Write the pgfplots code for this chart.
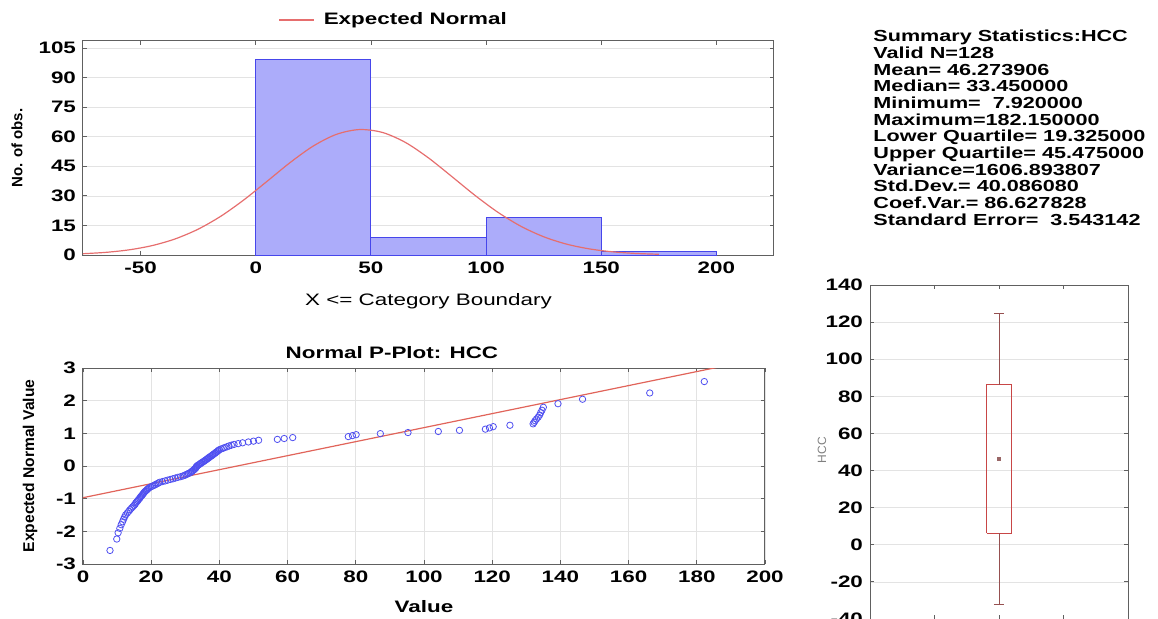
\documentclass[border=0pt]{standalone}
\usepackage{pgfplots}
\pgfplotsset{compat=1.18}
\usepackage{fontspec}
\setmainfont{Liberation Sans}[FakeStretch=1.35]
\newfontfamily\rotfont{Liberation Sans}

\definecolor{barfill}{RGB}{172,172,250}
\definecolor{bardraw}{RGB}{70,70,235}
\definecolor{curve}{RGB}{230,110,110}
\definecolor{pts}{RGB}{80,80,240}
\definecolor{pline}{RGB}{225,100,90}
\definecolor{boxred}{RGB}{200,70,70}
\definecolor{whisk}{RGB}{150,80,80}

\pgfplotsset{
  stat/.style={
    scale only axis,
    axis line style={gray!75!black, line width=0.5pt},
    tick style={gray!75!black, line width=0.4pt},
    major tick length=2pt,
    grid style={gray!22, line width=0.3pt},
    tick label style={font=\bfseries\fontsize{8.3}{9}\selectfont},
    /pgf/number format/assume math mode=true,
  }
}

\begin{document}
\begin{tikzpicture}

% histogram with expected normal
\begin{axis}[stat,
  at={(41.5pt,181.5pt)}, anchor=south west,
  width=345.5pt, height=107pt,
  xmin=-75, xmax=225, ymin=0, ymax=108.6,
  xtick={-50,0,50,100,150,200},
  ytick={0,15,30,45,60,75,90,105},
  ymajorgrids,
  xlabel={X <= Category Boundary},
  xlabel style={font=\fontsize{8.3}{9}\selectfont, yshift=-3pt},
  ylabel={No. of obs.},
  ylabel style={at={(axis description cs:-0.0955,0.5)}, anchor=center,
    font=\rotfont\bfseries\fontsize{7.5}{8}\selectfont},
  legend style={draw=none, fill=none, at={(axis description cs:0.451,1.098)},
    anchor=center, font=\bfseries\fontsize{8.3}{9}\selectfont,
    legend cell align=left},
]
\addplot[ybar interval, fill=barfill, draw=bardraw, line width=0.5pt, forget plot]
  coordinates {(0,99) (50,9) (100,19) (150,2) (200,2)};
\addplot[curve, line width=0.6pt, smooth] coordinates {
  (-75,0.66) (-65,1.35) (-55,2.62) (-45,4.77) (-35,8.16) (-25,13.11)
  (-15,19.80) (-5,28.11) (5,37.48) (15,46.98) (25,55.32) (35,61.22)
  (45,63.66) (55,62.20) (65,57.11) (75,49.26) (85,39.94) (95,30.43)
  (105,21.78) (115,14.65) (125,9.26) (135,5.50) (145,3.07) (155,1.61)
  (165,0.79) (175,0.37)
};
\addlegendentry{\hspace{3pt}Expected Normal}
\end{axis}

% normal probability plot
\begin{axis}[stat,
  at={(41.5pt,27pt)}, anchor=south west,
  width=341pt, height=98pt,
  xmin=0, xmax=200, ymin=-3, ymax=3,
  xtick={0,20,...,200}, ytick={-3,-2,...,3},
  grid=major,
  title={Normal P-Plot: HCC},
  title style={at={(axis description cs:0.453,1.016)}, anchor=center,
    font=\bfseries\fontsize{8.3}{9}\selectfont},
  xlabel={Value},
  xlabel style={font=\bfseries\fontsize{8.3}{9}\selectfont, yshift=-2pt},
  ylabel={Expected Normal Value},
  ylabel style={at={(axis description cs:-0.0777,0.5)}, anchor=center,
    font=\rotfont\bfseries\fontsize{7.8}{8}\selectfont},
]
\addplot[pline, line width=0.6pt] coordinates {(0,-0.97) (200,3.32)};
\addplot[only marks, mark=o, mark size=1.6pt, pts, mark options={line width=0.4pt}] coordinates {
  (7.92,-2.585) (9.9,-2.236) (10.3,-2.044) (10.8,-1.907) (11.2,-1.798)
  (11.6,-1.707) (11.9,-1.629) (12.2,-1.559) (12.5,-1.496) (13.0,-1.439)
  (13.4,-1.386) (13.8,-1.337) (14.2,-1.290) (14.6,-1.247) (15.0,-1.205)
  (15.3,-1.166) (15.5,-1.128) (15.8,-1.092) (16.1,-1.057) (16.3,-1.024)
  (16.6,-0.991) (16.8,-0.960) (17.0,-0.930) (17.3,-0.900) (17.5,-0.870)
  (17.7,-0.842) (17.9,-0.815) (18.1,-0.788) (18.4,-0.761) (18.7,-0.736)
  (18.9,-0.710) (19.2,-0.685) (19.45,-0.661) (19.9,-0.637) (20.4,-0.613)
  (20.9,-0.589) (21.3,-0.566) (21.7,-0.544) (22.1,-0.521) (22.5,-0.499)
  (23.3,-0.477) (24.1,-0.455) (24.8,-0.433) (25.6,-0.411) (26.4,-0.390)
  (27.1,-0.369) (27.8,-0.348) (28.6,-0.327) (29.3,-0.306) (29.8,-0.286)
  (30.2,-0.265) (30.6,-0.245) (31.0,-0.225) (31.4,-0.205) (31.7,-0.185)
  (32.0,-0.165) (32.1,-0.147) (32.4,-0.127) (32.6,-0.108) (32.8,-0.088)
  (33.0,-0.069) (33.1,-0.049) (33.2,-0.029) (33.4,-0.010) (33.5,0.010)
  (33.8,0.029) (34.1,0.049) (34.4,0.069) (34.6,0.088) (34.9,0.108)
  (35.2,0.127) (35.5,0.147) (35.7,0.165) (36.0,0.185) (36.3,0.205)
  (36.5,0.225) (36.8,0.245) (37.0,0.265) (37.3,0.286) (37.6,0.306)
  (37.9,0.327) (38.1,0.348) (38.4,0.369) (38.7,0.390) (38.9,0.411)
  (39.2,0.433) (39.5,0.455) (39.7,0.477) (40.0,0.499) (40.5,0.521)
  (41.1,0.544) (41.6,0.566) (42.2,0.589) (42.8,0.613) (43.5,0.637)
  (44.3,0.661) (45.5,0.685) (46.8,0.710) (48.5,0.736) (50.0,0.761)
  (51.5,0.788) (57.0,0.815) (59.0,0.842) (61.5,0.870) (77.8,0.900)
  (79.0,0.930) (80.1,0.960) (87.2,0.991) (95.3,1.024) (104.2,1.057)
  (110.4,1.092) (118.0,1.128) (119.2,1.166) (120.3,1.205) (125.2,1.247)
  (132.0,1.290) (132.3,1.337) (132.6,1.386) (133.0,1.439) (133.5,1.496)
  (133.9,1.559) (134.2,1.629) (134.6,1.707) (135.0,1.798) (139.3,1.907)
  (146.5,2.044) (166.2,2.236) (182.2,2.585)
};
\end{axis}

% box plot: mean, mean +- SD, mean +- 1.96 SD
\begin{axis}[stat,
  at={(435pt,-0.5pt)}, anchor=south west,
  width=129pt, height=167pt,
  xmin=0, xmax=4, ymin=-40, ymax=140,
  xtick={1,2,3}, xticklabels={},
  ytick={-40,-20,...,140},
  ymajorgrids,
  ylabel={HCC},
  ylabel style={at={(axis description cs:-0.186,0.506)}, anchor=center,
    font=\rotfont\fontsize{6}{7}\selectfont, gray},
]
\addplot[boxred, line width=0.5pt] coordinates {(1.81,6.19) (2.2,6.19) (2.2,86.36) (1.81,86.36) (1.81,6.19)};
\addplot[whisk, line width=0.5pt] coordinates {(2.0,86.36) (2.0,124.84)};
\addplot[whisk, line width=0.5pt] coordinates {(2.0,6.19) (2.0,-32.3)};
\addplot[whisk, line width=0.5pt] coordinates {(1.92,124.84) (2.08,124.84)};
\addplot[whisk, line width=0.5pt] coordinates {(1.92,-32.3) (2.08,-32.3)};
\addplot[only marks, mark=square*, mark size=0.9pt, gray!80!red] coordinates {(2.0,46.27)};
\end{axis}

% summary statistics
\node[anchor=north west, inner sep=0pt, align=left,
  font=\bfseries\fontsize{8}{8.32}\selectfont] at (436.5pt,294pt) {
Summary Statistics:HCC\\
Valid N=128\\
Mean= 46.273906\\
Median= 33.450000\\
Minimum=~ 7.920000\\
Maximum=182.150000\\
Lower Quartile= 19.325000\\
Upper Quartile= 45.475000\\
Variance=1606.893807\\
Std.Dev.= 40.086080\\
Coef.Var.= 86.627828\\
Standard Error=~ 3.543142};

\pgfresetboundingbox
\useasboundingbox (0pt,0pt) rectangle (579pt,309pt);
\end{tikzpicture}
\end{document}
